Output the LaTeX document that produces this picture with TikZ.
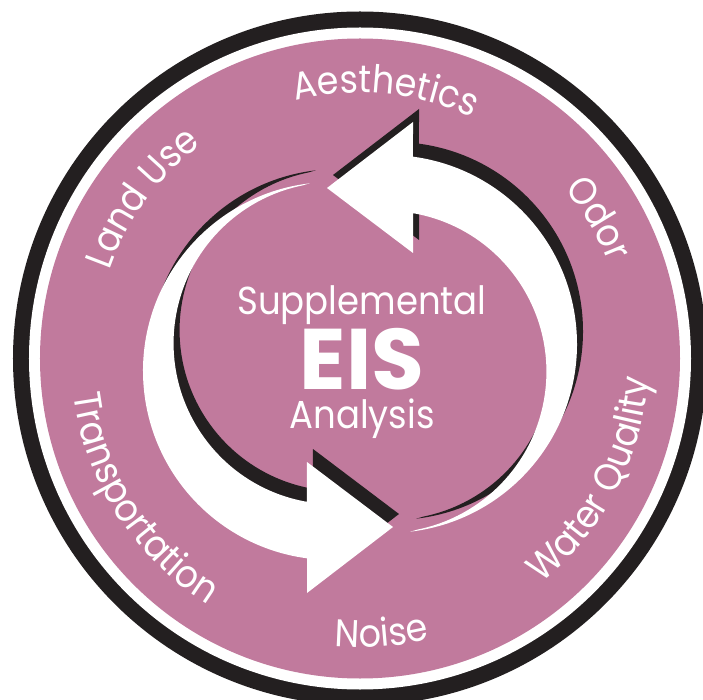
\documentclass[tikz,border=0pt]{standalone}
\usepackage{fontspec}
\setmainfont{Poppins}
\newfontfamily\narrowfamily[FakeStretch=0.91]{Poppins}
\usetikzlibrary{decorations.text}
\definecolor{ringpink}{RGB}{193,122,157}
\definecolor{inkblack}{RGB}{35,31,32}
\newcommand\labelfont{\narrowfamily\fontsize{38.5bp}{38.5bp}\selectfont}
\newcommand\centerfont{\narrowfamily\fontsize{39bp}{39bp}\selectfont}
\newcommand\eisfont{\fontsize{86bp}{86bp}\selectfont\bfseries}
\tikzset{
  arrowshape/.pic={
    \path[pic actions] (50.05,-173.21) arc[start angle=-83.3,end angle=82.4,radius=189]
      -- (53,236.5) -- (-33,170.5) -- (53,105.5)
      -- (53.08,145.30) arc[start angle=80.1,end angle=-78.3,radius=161] -- cycle;
  },
  ringlabel/.style={decorate, decoration={text along path, text align=center,
      text={|\labelfont\color{white}|#1}}},
  centertext/.style={anchor=base, text=white, inner sep=0pt},
}
\begin{document}
\begin{tikzpicture}[x=1bp,y=1bp]
\clip (-360,-341.5) rectangle (343,358.5);
\fill[white] (-360,-341.5) rectangle (343,358.5);
% rings
\fill[inkblack] (0,0) circle[radius=347];
\fill[white] (0,0) circle[radius=331];
\fill[ringpink] (0,0) circle[radius=320];
% shadows
\pic[fill=inkblack] at (6,13) {arrowshape};
\pic[fill=inkblack, rotate=180] at (6,15) {arrowshape};
% arrows
\pic[fill=white] at (0,0) {arrowshape};
\pic[fill=white, rotate=180] at (0,2) {arrowshape};
% ring labels (top half, clockwise)
\path[ringlabel=Aesthetics] (134.5:266) arc[start angle=134.5,end angle=34.5,radius=266];
\path[ringlabel=Odor] (80.4:266) arc[start angle=80.4,end angle=-19.6,radius=266];
\path[ringlabel=Land Use] (193.6:266) arc[start angle=193.6,end angle=93.6,radius=266];
% ring labels (bottom half, counterclockwise)
\path[ringlabel=Noise] (-135.6:289) arc[start angle=-135.6,end angle=-35.6,radius=289];
\path[ringlabel=Water Quality] (-77.5:289) arc[start angle=-77.5,end angle=22.5,radius=289];
\path[ringlabel=Transportation] (-197.3:289) arc[start angle=-197.3,end angle=-97.3,radius=289];
% centre text
\node[centertext, font=\centerfont] (supp) at (2,43.5) {Supplemental};
\node[centertext, font=\eisfont] (eis) at (2,-31.5) {EIS};
\node[centertext, font=\centerfont] (anal) at (2,-69.5) {Analysis};
\end{tikzpicture}
\end{document}
